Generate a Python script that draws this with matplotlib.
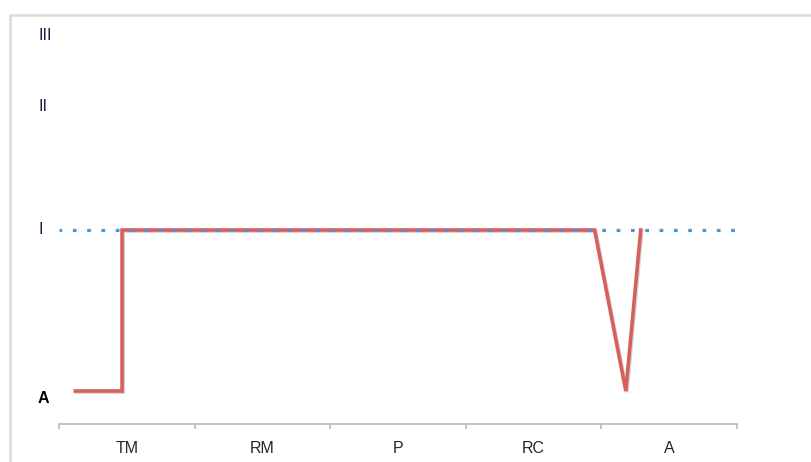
import matplotlib
matplotlib.use("Agg")
import matplotlib.pyplot as plt
import matplotlib.patheffects as pe
import matplotlib.transforms as mtrans
from matplotlib.patches import Rectangle

# ---- data ----
categories = ["TM", "RM", "P", "RC", "A"]
path_x = [0.12, 0.465, 0.465, 3.95, 4.18, 4.29]
path_level = [0.0, 0.0, 1.0, 1.0, 0.0, 1.0]
level_labels = ["A", "I", "II", "III"]
level_pos = [-0.045, 1.0, 1.765, 2.21]
reference_level = 1.0

W, H = 811, 462
fig = plt.figure(figsize=(W / 100, H / 100), dpi=100)
plt.rcParams['font.family'] = ['Liberation Sans', 'DejaVu Sans']

# outer frame (cropped chart border)
fig.patches.append(Rectangle((9.5 / W, -0.1), 2.0, (H - 15) / H + 0.1,
                             transform=fig.transFigure, fill=False,
                             edgecolor="#d9d9d9", linewidth=1.8))

ax = fig.add_axes([59 / W, (H - 424) / H, (737 - 59) / W, (424 - 14) / H])
ax.set_xlim(0, len(categories))
ax.set_ylim(-33 / 161, 377 / 161)

for s in ["top", "right", "left"]:
    ax.spines[s].set_visible(False)
ax.spines["bottom"].set_color("#bfbfbf")
ax.spines["bottom"].set_linewidth(1.3)

ax.set_xticks(range(len(categories) + 1))
ax.set_xticklabels([])
ax.tick_params(axis="x", which="major", length=3.5, width=1.3, color="#bfbfbf", direction="out")
ax.set_xticks([i + 0.5 for i in range(len(categories))], minor=True)
ax.set_xticklabels(categories, minor=True, fontsize=11.5, color="#262626")
ax.tick_params(axis="x", which="minor", length=0, pad=12)
ax.set_yticks([])

# red stage line
ax.plot(path_x, path_level, color="#d8605b", linewidth=2.6, solid_joinstyle="miter",
        zorder=2,
        path_effects=[pe.SimpleLineShadow(offset=(0.8, -0.8), alpha=0.25, shadow_color="#555555"),
                      pe.Normal()])

# blue dotted reference line
ax.plot([0, len(categories) + 0.025], [reference_level, reference_level], color="#4f92d2",
        linewidth=2.3, linestyle=(0.3, (1.15, 3.33)), dash_capstyle="butt", zorder=3,
        clip_on=False)

# level labels
trans = mtrans.blended_transform_factory(fig.transFigure, ax.transData)
for lab, pos in zip(level_labels, level_pos):
    ax.text(38 / W, pos, lab, transform=trans, ha="left", va="center",
            fontsize=11.5, color="#000000" if lab == "A" else "#1a1a4a",
            fontweight="bold" if lab == "A" else "normal")

fig.savefig("out.png", dpi=100)
